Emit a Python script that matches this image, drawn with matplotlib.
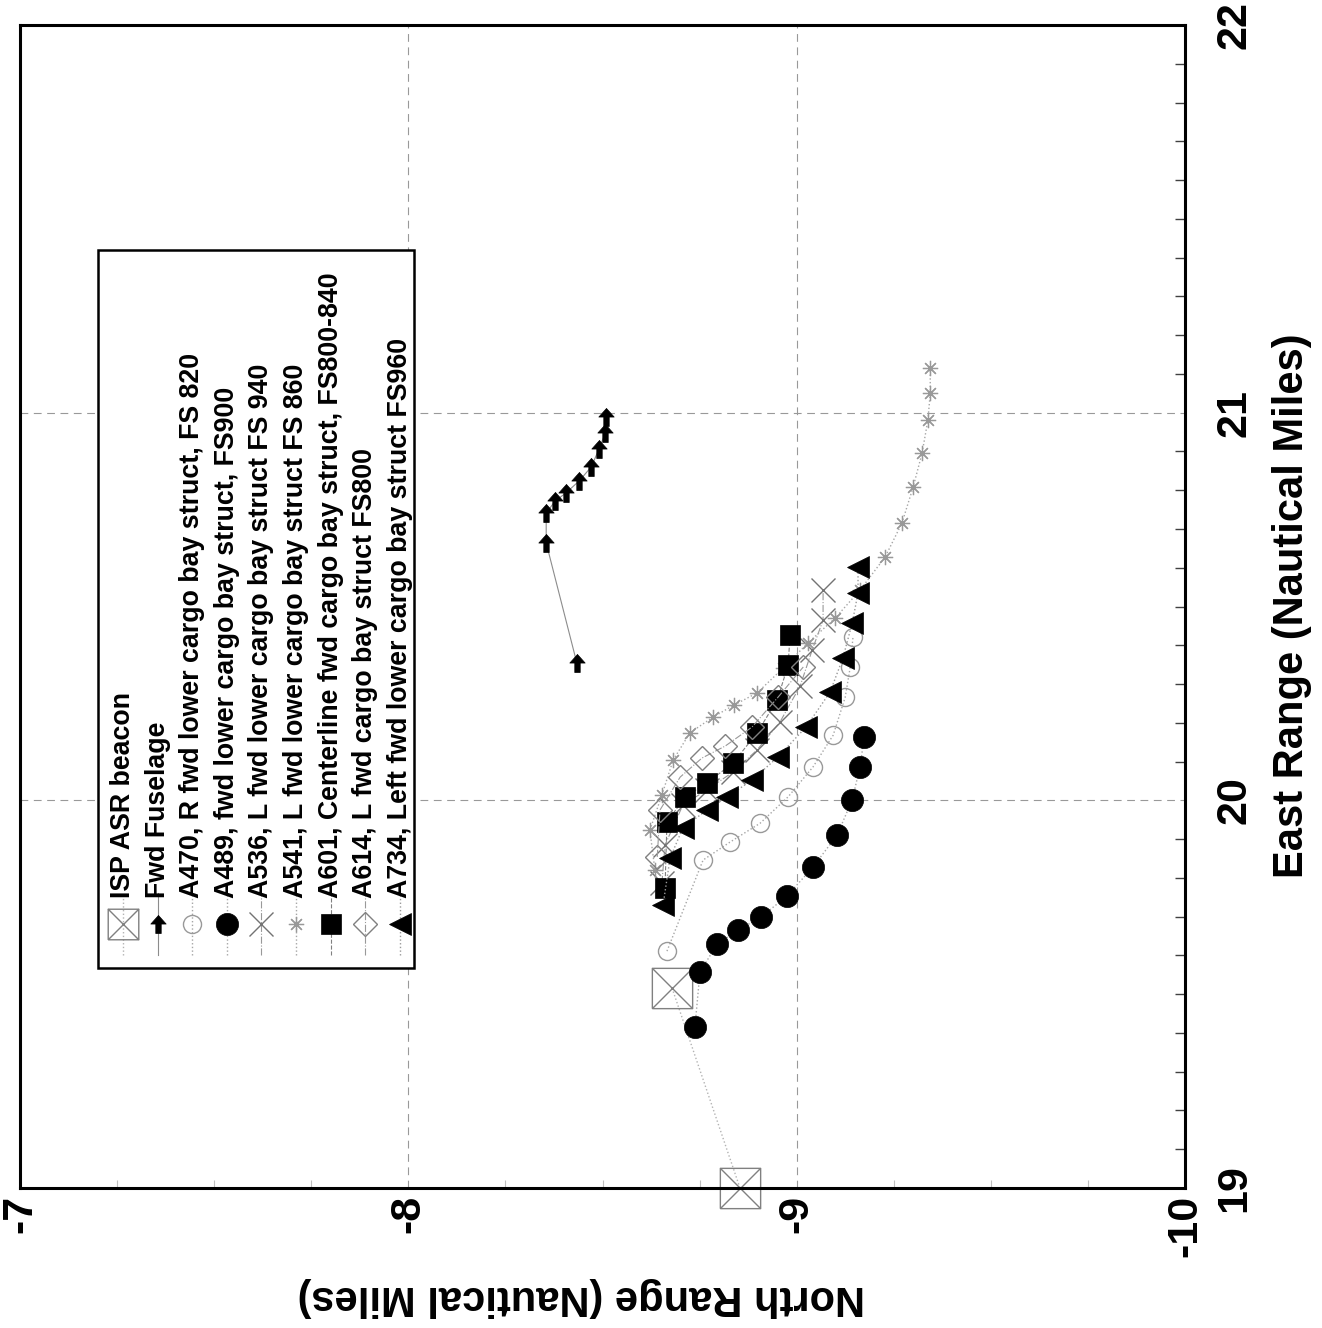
import matplotlib
matplotlib.use("Agg")
import matplotlib.pyplot as plt
from matplotlib.path import Path
from matplotlib.patches import Rectangle
from matplotlib.ticker import MultipleLocator

plt.rcParams["font.family"] = ["Liberation Sans", "DejaVu Sans"]
plt.rcParams["font.weight"] = "bold"

# Chart values (North / East range, nautical miles)
north_ticks = [-7, -8, -9, -10]
east_ticks = [19, 20, 21, 22]
north_labels = ["-7", "-8", "-9", "-10"]
east_labels = ["19", "20", "21", "22"]

beacon_north = [-8.854, -8.679]
beacon_east = [19.000, 19.516]

fwd_north = [-8.434, -8.355, -8.355, -8.378, -8.406, -8.440, -8.471, -8.491, -8.507, -8.509]
fwd_east = [20.354, 20.664, 20.741, 20.772, 20.793, 20.824, 20.860, 20.906, 20.947, 20.989]

a470_north = [-8.666, -8.759, -8.828, -8.906, -8.978, -9.042, -9.094, -9.125, -9.138, -9.145]
a470_east = [19.611, 19.846, 19.892, 19.941, 20.009, 20.086, 20.168, 20.266, 20.344, 20.421]

a489_north = [-8.738, -8.751, -8.795, -8.849, -8.908, -8.975, -9.042, -9.104, -9.143, -9.163, -9.174]
a489_east = [19.415, 19.557, 19.629, 19.665, 19.699, 19.753, 19.828, 19.910, 20.001, 20.086, 20.163]

a536_north = [-8.653, -8.661, -8.707, -8.769, -8.836, -8.898, -8.957, -9.009, -9.040, -9.068, -9.068]
a536_east = [19.787, 19.885, 19.988, 20.027, 20.073, 20.130, 20.202, 20.295, 20.388, 20.465, 20.542]

a541_north = [-8.635, -8.622, -8.653, -8.682, -8.725, -8.785, -8.839, -8.898, -8.965, -9.029,
              -9.099, -9.163, -9.228, -9.271, -9.300, -9.323, -9.338, -9.344, -9.344]
a541_east = [19.820, 19.923, 20.014, 20.104, 20.174, 20.215, 20.246, 20.277, 20.341, 20.406,
             20.470, 20.542, 20.628, 20.715, 20.808, 20.896, 20.981, 21.051, 21.115]

a601_north = [-8.661, -8.666, -8.713, -8.769, -8.836, -8.898, -8.950, -8.978, -8.983]
a601_east = [19.774, 19.944, 20.009, 20.045, 20.096, 20.174, 20.259, 20.349, 20.426]

a614_north = [-8.641, -8.648, -8.700, -8.756, -8.816, -8.885, -8.952, -9.017]
a614_east = [19.854, 19.975, 20.060, 20.109, 20.140, 20.189, 20.266, 20.344]

a734_north = [-8.656, -8.674, -8.707, -8.769, -8.821, -8.885, -8.952, -9.024, -9.086, -9.119,
              -9.143, -9.158, -9.158]
a734_east = [19.730, 19.851, 19.929, 19.975, 20.009, 20.052, 20.112, 20.189, 20.279, 20.367,
             20.457, 20.535, 20.602]

# custom markers
M, L = Path.MOVETO, Path.LINETO
box_x = Path(
    [(-1, -1), (1, -1), (1, 1), (-1, 1), (-1, -1), (-1, -1), (1, 1), (-1, 1), (1, -1)],
    [M, L, L, L, L, M, L, M, L],
)
arrow_up = Path(
    [(0, 1), (0.85, 0.05), (0.3, 0.05), (0.3, -1), (-0.3, -1), (-0.3, 0.05), (-0.85, 0.05), (0, 1)],
    [M, L, L, L, L, L, L, L],
)

series = [
    ("ISP ASR beacon", beacon_north, beacon_east,
     dict(marker=box_x, ms=29, mfc="none", mec="0.5", mew=1.0, color="0.7", ls=":", lw=1.0)),
    ("Fwd Fuselage", fwd_north, fwd_east,
     dict(marker=arrow_up, ms=13, mfc="black", mec="black", mew=0.5, color="0.55", ls="-", lw=0.8)),
    ("A470, R fwd lower cargo bay struct, FS 820", a470_north, a470_east,
     dict(marker="o", ms=13, mfc="none", mec="0.6", mew=1.0, color="0.65", ls=":", lw=1.0)),
    ("A489, fwd lower cargo bay struct, FS900", a489_north, a489_east,
     dict(marker="o", ms=16, mfc="black", mec="black", mew=0.5, color="0.65", ls=":", lw=1.0)),
    ("A536, L fwd lower cargo bay struct FS 940", a536_north, a536_east,
     dict(marker="x", ms=17, mfc="none", mec="0.45", mew=1.0, color="0.6", ls="-.", lw=0.8)),
    ("A541, L fwd lower cargo bay struct FS 860", a541_north, a541_east,
     dict(marker=(8, 2, 0), ms=11, mfc="none", mec="0.6", mew=0.9, color="0.65", ls=":", lw=1.0)),
    ("A601, Centerline fwd cargo bay struct, FS800-840", a601_north, a601_east,
     dict(marker="s", ms=14, mfc="black", mec="black", mew=0.5, color="0.5", ls="--", lw=0.8)),
    ("A614, L fwd cargo bay struct FS800", a614_north, a614_east,
     dict(marker="D", ms=12, mfc="none", mec="0.5", mew=1.0, color="0.6", ls="-.", lw=0.8)),
    ("A734, Left fwd lower cargo bay struct FS960", a734_north, a734_east,
     dict(marker="<", ms=16, mfc="black", mec="black", mew=0.5, color="0.6", ls=":", lw=1.0)),
]

W, H = 1322, 1328
fig = plt.figure(figsize=(W / 100, H / 100), dpi=100)
ax = fig.add_axes([20 / W, 1 - 1188 / H, 1165 / W, 1163 / H])

for label, xs, ys, st in series:
    ax.plot(xs, ys, clip_on=False, zorder=3, **st)

# page is rotated: north runs right-to-left along the bottom, east up the right side
ax.set_xlim(-7, -10)
ax.set_ylim(19, 22)
ax.set_xticks(north_ticks)
ax.set_xticklabels(north_labels, rotation=90, va="top", ha="center", fontsize=31, fontweight="bold")
ax.yaxis.tick_right()
ax.yaxis.set_label_position("right")
ax.set_yticks(east_ticks)
ax.set_yticklabels(east_labels, rotation=90, va="center", ha="left", fontsize=31, fontweight="bold")
ax.xaxis.set_minor_locator(MultipleLocator(0.25))
ax.yaxis.set_minor_locator(MultipleLocator(0.1))
ax.tick_params(which="major", length=0)
ax.tick_params(axis="x", which="major", pad=5)
ax.tick_params(axis="y", which="major", pad=21)
ax.tick_params(axis="y", which="minor", direction="in", length=7, width=1.0, color="0.25")
ax.tick_params(axis="x", which="minor", direction="in", length=6, width=0.8, color="0.75")
ax.grid(True, which="major", ls=(0, (7, 5)), color="0.6", lw=0.8)
for sp in ax.spines.values():
    sp.set_linewidth(2.2)
    sp.set_zorder(10)

ax.set_xlabel("North Range (Nautical Miles)", rotation=180, fontsize=30, fontweight="bold")
ax.xaxis.set_label_coords(0.482, -0.0937)
ax.xaxis.label.set_va("center")
ax.xaxis.label.set_ha("center")
ax.set_ylabel("East Range (Nautical Miles)", rotation=90, fontsize=30, fontweight="bold")
ax.yaxis.set_label_coords(1.092, 0.501)
ax.yaxis.label.set_va("center")
ax.yaxis.label.set_ha("center")


def axf(px, py):
    return (px - 20) / 1165, (1188 - py) / 1163


# hand-built legend with rotated entries
x0, y0 = axf(98, 968)
x1, y1 = axf(414, 250)
ax.add_patch(Rectangle((x0, y0), x1 - x0, y1 - y0, transform=ax.transAxes,
                       facecolor="white", edgecolor="black", lw=1.8, zorder=5))
for i, (label, xs, ys, st) in enumerate(series):
    cx = 123 + 34.6 * i
    lx, ly_a = axf(cx, 955)
    _, ly_b = axf(cx, 893)
    _, my = axf(cx, 924)
    _, ty = axf(cx, 898)
    ax.plot([lx, lx], [ly_a, ly_b], transform=ax.transAxes, color=st["color"],
            ls=st["ls"], lw=st["lw"], zorder=6)
    mst = {k: v for k, v in st.items() if k not in ("color", "ls", "lw")}
    if i == 0:
        mst["ms"] = 22
    ax.plot([lx], [my], transform=ax.transAxes, ls="none", zorder=7, **mst)
    ax.text(lx, ty, label, rotation=90, ha="center", va="bottom", fontsize=19.3,
            fontweight="bold", transform=ax.transAxes, zorder=7)

ax.set_xlim(-7, -10)
ax.set_ylim(19, 22)

fig.savefig("out.png", dpi=100)
